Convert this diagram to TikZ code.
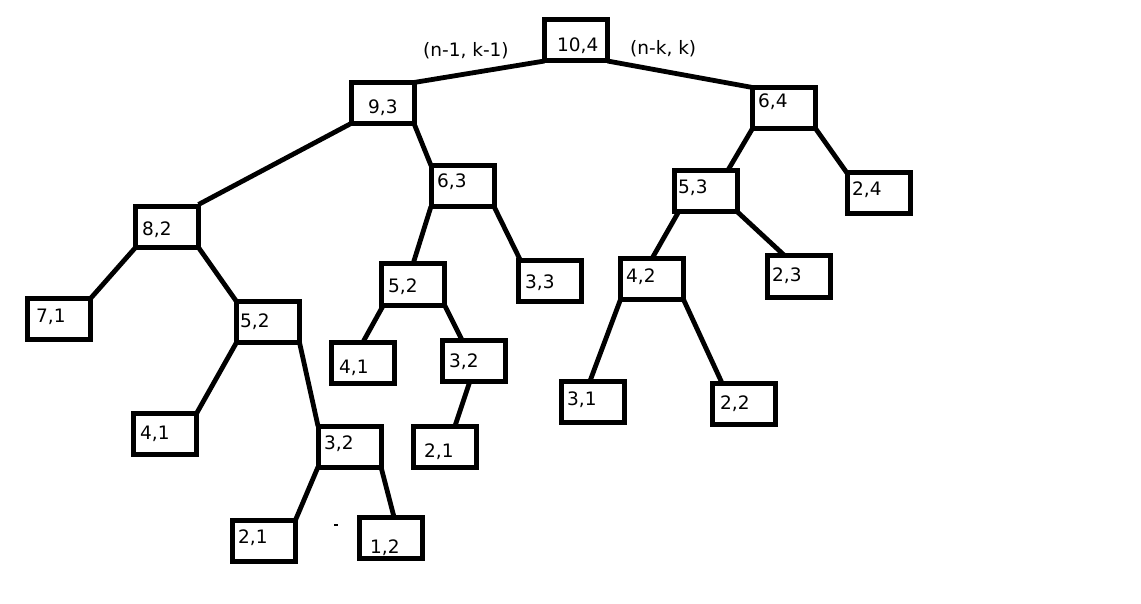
\documentclass[tikz,border=0pt]{standalone}
\usepackage{fontspec}
\setmainfont{DejaVu Sans}
\begin{document}
\begin{tikzpicture}[x=1pt,y=-1pt,
  box/.style={draw,line width=5pt,minimum width=63pt,minimum height=41pt,inner sep=0pt,outer sep=0pt},
  lbl/.style={anchor=base west,inner sep=0pt,font=\fontsize{18.5}{21}\selectfont},
  edge/.style={line width=4.8pt}]
\useasboundingbox[fill=white] (0,0) rectangle (1141,604);
% boxes
\node[box] (b104) at (576,40.5) {};
\node[box] (b93) at (382.5,103) {};
\node[box] (b64) at (784,108) {};
\node[box] (b82) at (167,227) {};
\node[box] (b63) at (462.5,186) {};
\node[box] (b53) at (706,191.5) {};
\node[box] (b24) at (878.5,193.5) {};
\node[box] (b71) at (59,319) {};
\node[box] (b52l) at (268,322) {};
\node[box] (b52m) at (413,284.5) {};
\node[box] (b33) at (550,281) {};
\node[box] (b42) at (652,279) {};
\node[box] (b23) at (799,276.5) {};
\node[box] (b41m) at (363,362.5) {};
\node[box] (b32m) at (474,360.5) {};
\node[box] (b41l) at (165,434) {};
\node[box] (b32l) at (349.5,446.5) {};
\node[box] (b21m) at (445,446.5) {};
\node[box] (b31) at (593,401.5) {};
\node[box] (b22) at (744,403.5) {};
\node[box] (b21l) at (264,540.5) {};
\node[box] (b12) at (391,537.5) {};
% labels
\node[lbl] (t104) at (557,52) {10,4};
\node[lbl] (t93) at (368,114) {9,3};
\node[lbl] (t64) at (758,108) {6,4};
\node[lbl] (t82) at (142,236) {8,2};
\node[lbl] (t63) at (437,188) {6,3};
\node[lbl] (t53) at (678,194) {5,3};
\node[lbl] (t24) at (852,196) {2,4};
\node[lbl] (t71) at (36,323) {7,1};
\node[lbl] (t52l) at (240,327) {5,2};
\node[lbl] (t52m) at (388,292) {5,2};
\node[lbl] (t33) at (525,288) {3,3};
\node[lbl] (t42) at (626,283) {4,2};
\node[lbl] (t23) at (772,281) {2,3};
\node[lbl] (t41m) at (339,373) {4,1};
\node[lbl] (t32m) at (449,367) {3,2};
\node[lbl] (t41l) at (140,439) {4,1};
\node[lbl] (t32l) at (324,449) {3,2};
\node[lbl] (t21m) at (424,457) {2,1};
\node[lbl] (t31) at (567,405) {3,1};
\node[lbl] (t22) at (720,409) {2,2};
\node[lbl] (t21l) at (238,543) {2,1};
\node[lbl] (t12) at (370,553) {1,2};
\node[lbl] (ta) at (423,57) {(n-1, k-1)};
\node[lbl] (tb) at (630,55) {(n-k, k)};
% edges
\draw[edge] (b104.south west) -- (b93.north east);
\draw[edge] (b104.south east) -- (b64.north west);
\draw[edge] (b93.south west) -- ([yshift=2]b82.north east);
\draw[edge] (b93.south east) -- (b63.north west);
\draw[edge] (b64.south west) -- ([xshift=-10]b53.north east);
\draw[edge] (b64.south east) -- (b24.north west);
\draw[edge] (b82.south west) -- (b71.north east);
\draw[edge] (b82.south east) -- (b52l.north west);
\draw[edge] (b63.south west) -- (b52m.north);
\draw[edge] (b63.south east) -- ([xshift=2]b33.north west);
\draw[edge] ([xshift=4]b53.south west) -- (b42.north);
\draw[edge] (b53.south east) -- ([xshift=-14]b23.north);
\draw[edge] (b52l.south west) -- (b41l.north east);
\draw[edge] (b52l.south east) -- (b32l.north west);
\draw[edge] ([xshift=2]b52m.south west) -- (b41m.north);
\draw[edge] (b52m.south east) -- ([xshift=-12]b32m.north);
\draw[edge] ([xshift=-4]b32m.south) -- ([xshift=10]b21m.north);
\draw[edge] (b42.south west) -- ([xshift=-3]b31.north);
\draw[edge] (b42.south east) -- ([xshift=-22]b22.north);
\draw[edge] (b32l.south west) -- (b21l.north east);
\draw[edge] (b32l.south east) -- ([xshift=3]b12.north);
% stray mark
\draw[line width=1.5pt] (334,525) -- (338,525);
\end{tikzpicture}
\end{document}
